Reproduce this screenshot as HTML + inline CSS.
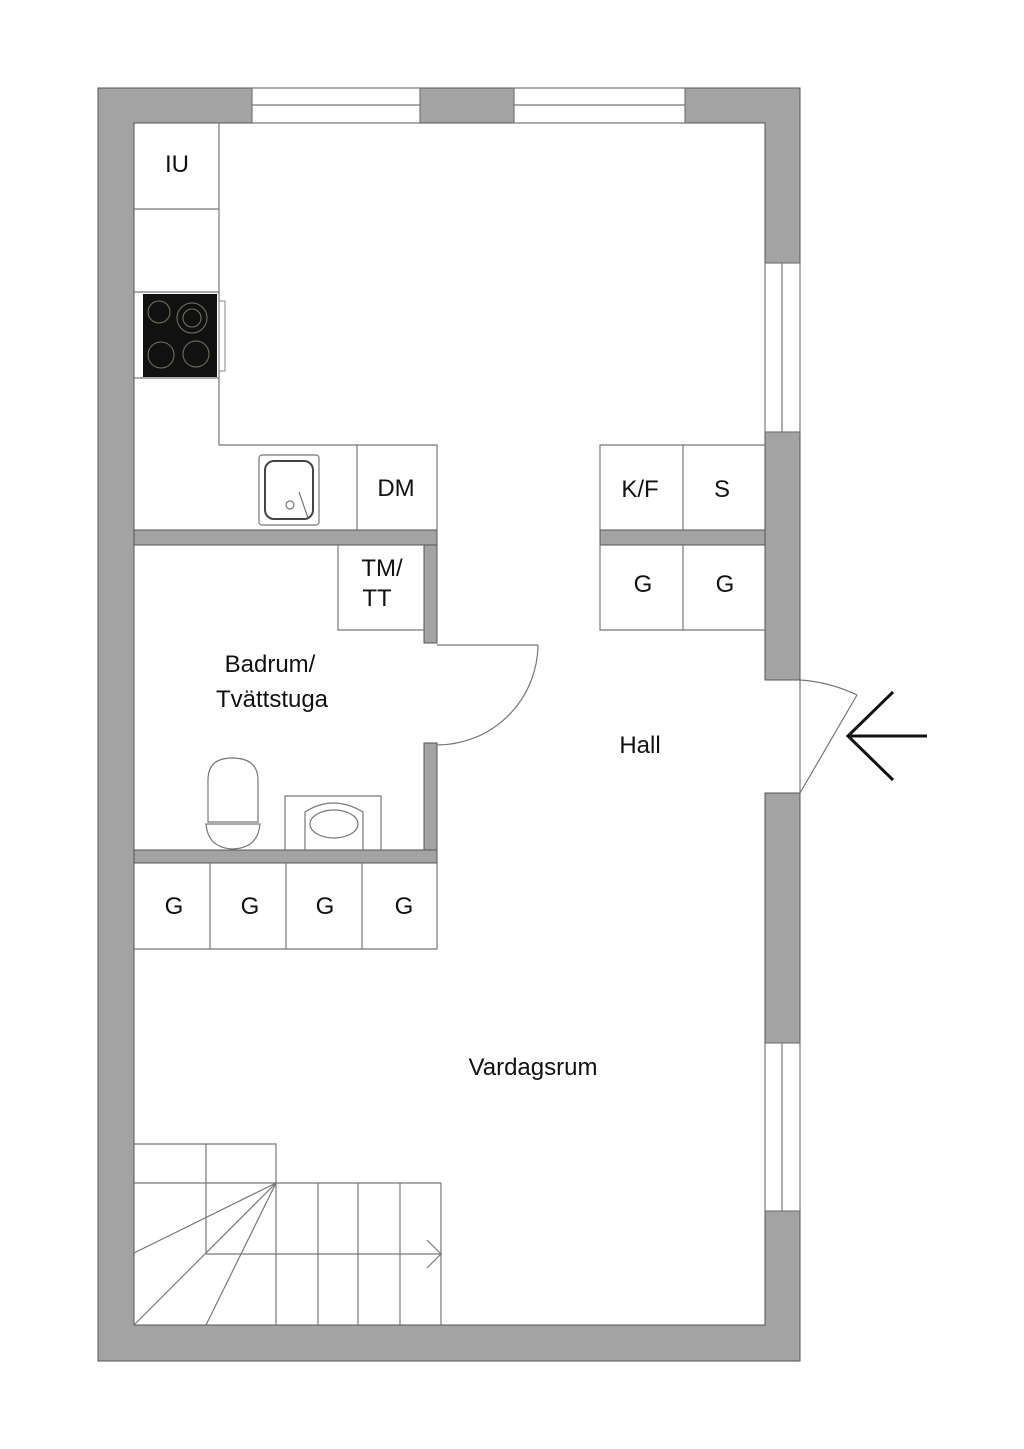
<!DOCTYPE html>
<html><head><meta charset="utf-8"><style>
html,body{margin:0;padding:0;background:#fff}
svg{display:block}
text{font-family:"Liberation Sans",sans-serif;font-size:24px;fill:#111;text-anchor:middle}
</style></head><body>
<svg width="1024" height="1449" viewBox="0 0 1024 1449" xmlns="http://www.w3.org/2000/svg">
<g fill="#a3a3a3" stroke="#555" stroke-width="1">
<!-- outer walls -->
<path d="M98,88 H252 V123 H134 V1325 H765 V1211 H800 V1361 H98 Z"/>
<rect x="420" y="88" width="94" height="35"/>
<path d="M685,88 H800 V263 H765 V123 H685 Z"/>
<rect x="765" y="432" width="35" height="248"/>
<rect x="765" y="793" width="35" height="250"/>
<!-- interior walls -->
<rect x="134" y="530" width="303" height="15"/>
<rect x="424" y="545" width="13" height="98"/>
<rect x="424" y="743" width="13" height="107"/>
<rect x="134" y="850" width="303" height="13"/>
<rect x="600" y="530" width="165" height="15"/>
</g>
<g fill="none" stroke="#777" stroke-width="1.2">
<!-- windows -->
<rect x="252" y="88" width="168" height="35"/><line x1="252" y1="105" x2="420" y2="105"/>
<rect x="514" y="88" width="171" height="35"/><line x1="514" y1="105" x2="685" y2="105"/>
<rect x="765" y="263" width="35" height="169"/><line x1="782" y1="263" x2="782" y2="432"/>
<rect x="765" y="1043" width="35" height="168"/><line x1="782" y1="1043" x2="782" y2="1211"/>
<!-- kitchen -->
<path d="M219,123 V445 H437 V530"/>
<line x1="134" y1="209" x2="219" y2="209"/>
<line x1="134" y1="292" x2="219" y2="292"/>
<line x1="134" y1="378" x2="219" y2="378"/>
<line x1="357" y1="445" x2="357" y2="530"/>
<!-- K/F S G G -->
<path d="M765,445 H600 V530"/><line x1="683" y1="445" x2="683" y2="530"/>
<path d="M765,630 H600 V545"/><line x1="683" y1="545" x2="683" y2="630"/>
<!-- TM/TT -->
<path d="M338,545 V630 H424"/>
<!-- bathroom door -->
<line x1="437" y1="645" x2="538" y2="645"/>
<path d="M538,645 A101,101 0 0 1 437,745"/>
<!-- entrance door -->
<line x1="800" y1="680" x2="800" y2="793"/>
<line x1="800" y1="793" x2="857" y2="695"/>
<path d="M800,680 Q830,682 857,695"/>
<!-- sink box -->
<path d="M285,850 V796 H381 V850"/>
<!-- G row -->
<path d="M134,949 H437 V863"/>
<line x1="210" y1="863" x2="210" y2="949"/><line x1="286" y1="863" x2="286" y2="949"/><line x1="362" y1="863" x2="362" y2="949"/>
<!-- stairs -->
<path d="M134,1144 H276 V1325"/>
<line x1="206" y1="1144" x2="206" y2="1254"/>
<line x1="134" y1="1183" x2="441" y2="1183"/>
<line x1="318" y1="1183" x2="318" y2="1325"/><line x1="358" y1="1183" x2="358" y2="1325"/><line x1="400" y1="1183" x2="400" y2="1325"/><line x1="441" y1="1183" x2="441" y2="1325"/>
<line x1="276" y1="1183" x2="134" y2="1253"/>
<line x1="276" y1="1183" x2="134" y2="1325"/>
<line x1="276" y1="1183" x2="206" y2="1325"/>
<line x1="206" y1="1254" x2="441" y2="1254"/>
<path d="M427,1240 L441,1254 L427,1268"/>
<!-- kitchen sink -->
<rect x="259" y="455" width="60" height="70" rx="3"/>
<rect x="265" y="461" width="48" height="58" rx="9" stroke="#444" stroke-width="2"/>
<circle cx="290" cy="505" r="4"/>
<line x1="299" y1="492" x2="308" y2="518"/>
<!-- toilet -->
<path d="M208,822 V780 Q208,758 232,758 Q258,758 258,780 V822 Z"/>
<path d="M206,824 H260 Q258,848 233,849 Q208,848 206,824 Z"/>
<!-- basin -->
<path d="M305,850 V812 Q333,794 363,812 V850"/>
<ellipse cx="334" cy="824" rx="24" ry="14"/>
</g>
<!-- stove -->
<rect x="143" y="294" width="74" height="83" fill="#111"/>
<g fill="none" stroke="#776" stroke-width="1">
<circle cx="159" cy="312" r="11"/><circle cx="192" cy="318" r="15"/><circle cx="192" cy="318" r="9"/>
<circle cx="161" cy="355" r="13"/><circle cx="196" cy="354" r="13"/>
<rect x="219" y="301" width="6" height="70" stroke="#888"/>
</g>
<!-- entry arrow -->
<g stroke="#111" stroke-width="3" fill="none">
<line x1="848" y1="736" x2="927" y2="736"/>
<path d="M893,692 L848,736 L893,780"/>
</g>
<text x="177" y="172">IU</text>
<text x="396" y="496">DM</text>
<text x="640" y="497">K/F</text>
<text x="722" y="497">S</text>
<text x="643" y="592">G</text>
<text x="725" y="592">G</text>
<text x="382" y="576">TM/</text>
<text x="377" y="606">TT</text>
<text x="270" y="672">Badrum/</text>
<text x="272" y="707">Tvättstuga</text>
<text x="640" y="753">Hall</text>
<text x="174" y="914">G</text>
<text x="250" y="914">G</text>
<text x="325" y="914">G</text>
<text x="404" y="914">G</text>
<text x="533" y="1075">Vardagsrum</text>
</svg>
</body></html>
